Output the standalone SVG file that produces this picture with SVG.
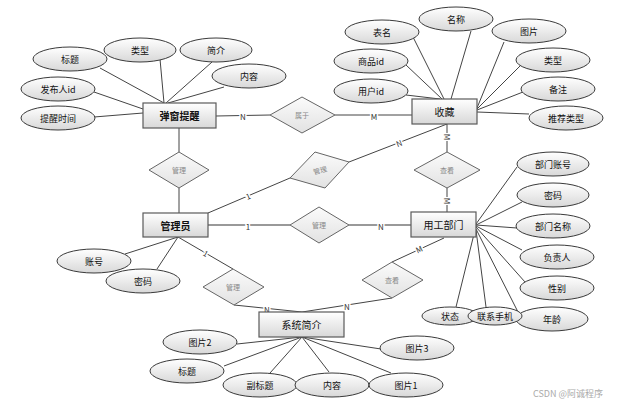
<svg xmlns="http://www.w3.org/2000/svg" width="629" height="404" viewBox="0 0 629 404">
<defs>
<linearGradient id="g" x1="0" y1="0" x2="0" y2="1"><stop offset="0" stop-color="#ffffff"/><stop offset="1" stop-color="#d8d8d8"/></linearGradient>
<linearGradient id="gd" x1="0" y1="0" x2="0" y2="1"><stop offset="0" stop-color="#fbfbfb"/><stop offset="1" stop-color="#e2e2e2"/></linearGradient>
</defs>
<style>
text{font-family:"Noto Sans CJK SC","Liberation Sans",sans-serif;text-anchor:middle;dominant-baseline:central;fill:#111}
.e ellipse{fill:url(#g);stroke:#3a3a3a;stroke-width:1}
.e text{font-size:9px}
.r rect{fill:url(#g);stroke:#5a5a5a;stroke-width:1.2}
.r text{font-size:10px;font-weight:bold}
.r text.n{font-weight:normal}
.d polygon{fill:url(#gd);stroke:#666;stroke-width:1}
.d text{font-size:7px;fill:#888}
#connectors line{stroke:#444;stroke-width:1}
#connectors line.thick{stroke:#999;stroke-width:2}
.lb{font-size:8px;fill:#333;stroke:#fff;stroke-width:3;paint-order:stroke}
.wm{font-size:9px;fill:#aaa;text-anchor:start}
</style>
<rect width="629" height="404" fill="#fff"/>
<g id="connectors">
<line x1="100" y1="68" x2="164" y2="103"/>
<line x1="160" y1="59" x2="164" y2="103"/>
<line x1="212" y1="62" x2="166" y2="103"/>
<line x1="224" y1="87" x2="168" y2="103"/>
<line x1="94" y1="92" x2="143" y2="109"/>
<line x1="94" y1="117" x2="143" y2="113"/>
<line x1="413" y1="37" x2="444" y2="99"/>
<line x1="471" y1="31" x2="451" y2="99"/>
<line x1="406" y1="65" x2="442" y2="99"/>
<line x1="406" y1="95" x2="440" y2="99"/>
<line x1="504" y1="42" x2="477" y2="108"/>
<line x1="520" y1="66" x2="477" y2="109"/>
<line x1="523" y1="92" x2="477" y2="110"/>
<line x1="529" y1="114" x2="477" y2="112"/>
<line x1="125" y1="254" x2="178" y2="237"/>
<line x1="157" y1="269" x2="178" y2="237"/>
<line x1="517" y1="167" x2="476" y2="224"/>
<line x1="522" y1="202" x2="476" y2="225"/>
<line x1="517" y1="228" x2="476" y2="225"/>
<line x1="522" y1="250" x2="476" y2="226"/>
<line x1="525" y1="282" x2="476" y2="227"/>
<line x1="456" y1="307" x2="475" y2="230"/>
<line x1="486" y1="307" x2="476" y2="230"/>
<line x1="518" y1="312" x2="476" y2="229"/>
<line x1="237" y1="344" x2="302" y2="337"/>
<line x1="224" y1="366" x2="302" y2="337"/>
<line x1="270" y1="373" x2="302" y2="337"/>
<line x1="329" y1="372" x2="302" y2="337"/>
<line x1="391" y1="373" x2="302" y2="337"/>
<line x1="381" y1="349" x2="302" y2="337"/>
<line x1="179" y1="128" x2="179" y2="152"/>
<line x1="179" y1="188" x2="179" y2="213"/>
<line x1="216" y1="116" x2="270" y2="115"/>
<line x1="335" y1="115" x2="412" y2="115"/>
<line x1="208" y1="213" x2="290" y2="178"/>
<line x1="349" y1="162" x2="447" y2="124"/>
<line x1="447" y1="124" x2="447" y2="152"/>
<line x1="447" y1="188" x2="447" y2="212"/>
<line class="thick" x1="208" y1="225" x2="290" y2="225"/>
<line class="thick" x1="349" y1="225" x2="411" y2="225"/>
<line x1="178" y1="237" x2="233" y2="269"/>
<line x1="234" y1="305" x2="302" y2="312"/>
<line x1="392" y1="298" x2="302" y2="312"/>
<line x1="444" y1="238" x2="392" y2="262"/>
<text class="lb" x="243" y="116">N</text>
<text class="lb" x="374" y="116">M</text>
<text class="lb" x="399" y="143" transform="rotate(-21 399 143)">N</text>
<text class="lb" x="248" y="196" transform="rotate(-23 248 196)">1</text>
<text class="lb" x="447" y="137" transform="rotate(90 447 137)">M</text>
<text class="lb" x="447" y="201" transform="rotate(90 447 201)">M</text>
<text class="lb" x="248" y="226">1</text>
<text class="lb" x="381" y="226">N</text>
<text class="lb" x="206" y="253" transform="rotate(30 206 253)">1</text>
<text class="lb" x="267" y="309" font-size="7">N</text>
<text class="lb" x="347" y="306" font-size="7">N</text>
<text class="lb" x="419" y="249" transform="rotate(-25 419 249)" font-size="7">M</text>
</g>
<g id="n-tanchuang" class="r"><rect x="143" y="103" width="73" height="25"/><text x="179.5" y="115.5">弹窗提醒</text></g>
<g id="n-shoucang" class="r"><rect x="412" y="99" width="65" height="25"/><text class="n" x="444.5" y="111.5">收藏</text></g>
<g id="n-guanliyuan" class="r"><rect x="143" y="213" width="65" height="24"/><text x="175.5" y="225">管理员</text></g>
<g id="n-yonggong" class="r"><rect x="411" y="212" width="65" height="25"/><text class="n" x="443.5" y="224.5">用工部门</text></g>
<g id="n-xitong" class="r"><rect x="259" y="312" width="85" height="25"/><text class="n" x="301.5" y="324.5">系统简介</text></g>
<g id="r-shuyu" class="d"><polygon points="270,115 302,97 335,115 302,133"/><text x="302" y="115">属于</text></g>
<g id="r-guanli1" class="d"><polygon points="149,170 179,152 209,170 179,188"/><text x="179" y="170">管理</text></g>
<g id="r-guanli2" class="d"><polygon points="290,178 315,152 349,162 325,188"/><text x="320" y="170" transform="rotate(-15 320 170)">管理</text></g>
<g id="r-guanli3" class="d"><polygon points="290,225 319,207 349,225 319,243"/><text x="319" y="225">管理</text></g>
<g id="r-chakan1" class="d"><polygon points="414,170 447,152 480,170 447,188"/><text x="447" y="170">查看</text></g>
<g id="r-guanli4" class="d"><polygon points="203,287 233,269 264,287 234,305"/><text x="233" y="287">管理</text></g>
<g id="r-chakan2" class="d"><polygon points="362,280 392,262 423,280 392,298"/><text x="392" y="280">查看</text></g>
<g id="a-biaoti1" class="e"><ellipse cx="70" cy="59" rx="37" ry="12"/><text x="70" y="59">标题</text></g>
<g id="a-leixing1" class="e"><ellipse cx="140" cy="50" rx="36" ry="12"/><text x="140" y="50">类型</text></g>
<g id="a-jianjie" class="e"><ellipse cx="216" cy="50" rx="36" ry="12"/><text x="216" y="50">简介</text></g>
<g id="a-neirong1" class="e"><ellipse cx="249" cy="76" rx="37" ry="12"/><text x="249" y="76">内容</text></g>
<g id="a-fabuid" class="e"><ellipse cx="58" cy="89" rx="37" ry="12"/><text x="58" y="89">发布人id</text></g>
<g id="a-tixingshijian" class="e"><ellipse cx="58" cy="118" rx="37" ry="12"/><text x="58" y="118">提醒时间</text></g>
<g id="a-biaoming" class="e"><ellipse cx="382" cy="32" rx="37" ry="12"/><text x="382" y="32">表名</text></g>
<g id="a-mingcheng" class="e"><ellipse cx="456" cy="19" rx="37" ry="12"/><text x="456" y="19">名称</text></g>
<g id="a-tupian" class="e"><ellipse cx="529" cy="31" rx="37" ry="12"/><text x="529" y="31">图片</text></g>
<g id="a-shangpinid" class="e"><ellipse cx="371" cy="61" rx="37" ry="12"/><text x="371" y="61">商品id</text></g>
<g id="a-leixing2" class="e"><ellipse cx="553" cy="60" rx="37" ry="12"/><text x="553" y="60">类型</text></g>
<g id="a-yonghuid" class="e"><ellipse cx="371" cy="91" rx="37" ry="12"/><text x="371" y="91">用户id</text></g>
<g id="a-beizhu" class="e"><ellipse cx="558" cy="89" rx="37" ry="12"/><text x="558" y="89">备注</text></g>
<g id="a-tuijian" class="e"><ellipse cx="566" cy="118" rx="37" ry="12"/><text x="566" y="118">推荐类型</text></g>
<g id="a-zhanghao" class="e"><ellipse cx="94" cy="261" rx="37" ry="12"/><text x="94" y="261">账号</text></g>
<g id="a-mima1" class="e"><ellipse cx="143" cy="281" rx="37" ry="12"/><text x="143" y="281">密码</text></g>
<g id="a-bumenzhanghao" class="e"><ellipse cx="553" cy="164" rx="36" ry="12"/><text x="553" y="164">部门账号</text></g>
<g id="a-mima2" class="e"><ellipse cx="553" cy="195" rx="36" ry="12"/><text x="553" y="195">密码</text></g>
<g id="a-bumenmingcheng" class="e"><ellipse cx="553" cy="226" rx="37" ry="12"/><text x="553" y="226">部门名称</text></g>
<g id="a-fuzeren" class="e"><ellipse cx="557" cy="257" rx="37" ry="12"/><text x="557" y="257">负责人</text></g>
<g id="a-xingbie" class="e"><ellipse cx="557" cy="288" rx="37" ry="12"/><text x="557" y="288">性别</text></g>
<g id="a-zhuangtai" class="e"><ellipse cx="450" cy="316" rx="28" ry="9"/><text x="450" y="316">状态</text></g>
<g id="a-nianling" class="e"><ellipse cx="552" cy="319" rx="36" ry="12"/><text x="552" y="319">年龄</text></g>
<g id="a-lianxi" class="e"><ellipse cx="495" cy="316" rx="27" ry="9"/><text x="495" y="316">联系手机</text></g>
<g id="a-tupian2" class="e"><ellipse cx="200" cy="342" rx="37" ry="12"/><text x="200" y="342">图片2</text></g>
<g id="a-biaoti2" class="e"><ellipse cx="187" cy="371" rx="37" ry="12"/><text x="187" y="371">标题</text></g>
<g id="a-fubiaoti" class="e"><ellipse cx="260" cy="385" rx="37" ry="12"/><text x="260" y="385">副标题</text></g>
<g id="a-neirong2" class="e"><ellipse cx="332" cy="385" rx="37" ry="12"/><text x="332" y="385">内容</text></g>
<g id="a-tupian1" class="e"><ellipse cx="406" cy="385" rx="37" ry="12"/><text x="406" y="385">图片1</text></g>
<g id="a-tupian3" class="e"><ellipse cx="417" cy="348" rx="37" ry="12"/><text x="417" y="348">图片3</text></g>
<text class="wm" x="533" y="393">CSDN @阿诚程序</text>
</svg>
